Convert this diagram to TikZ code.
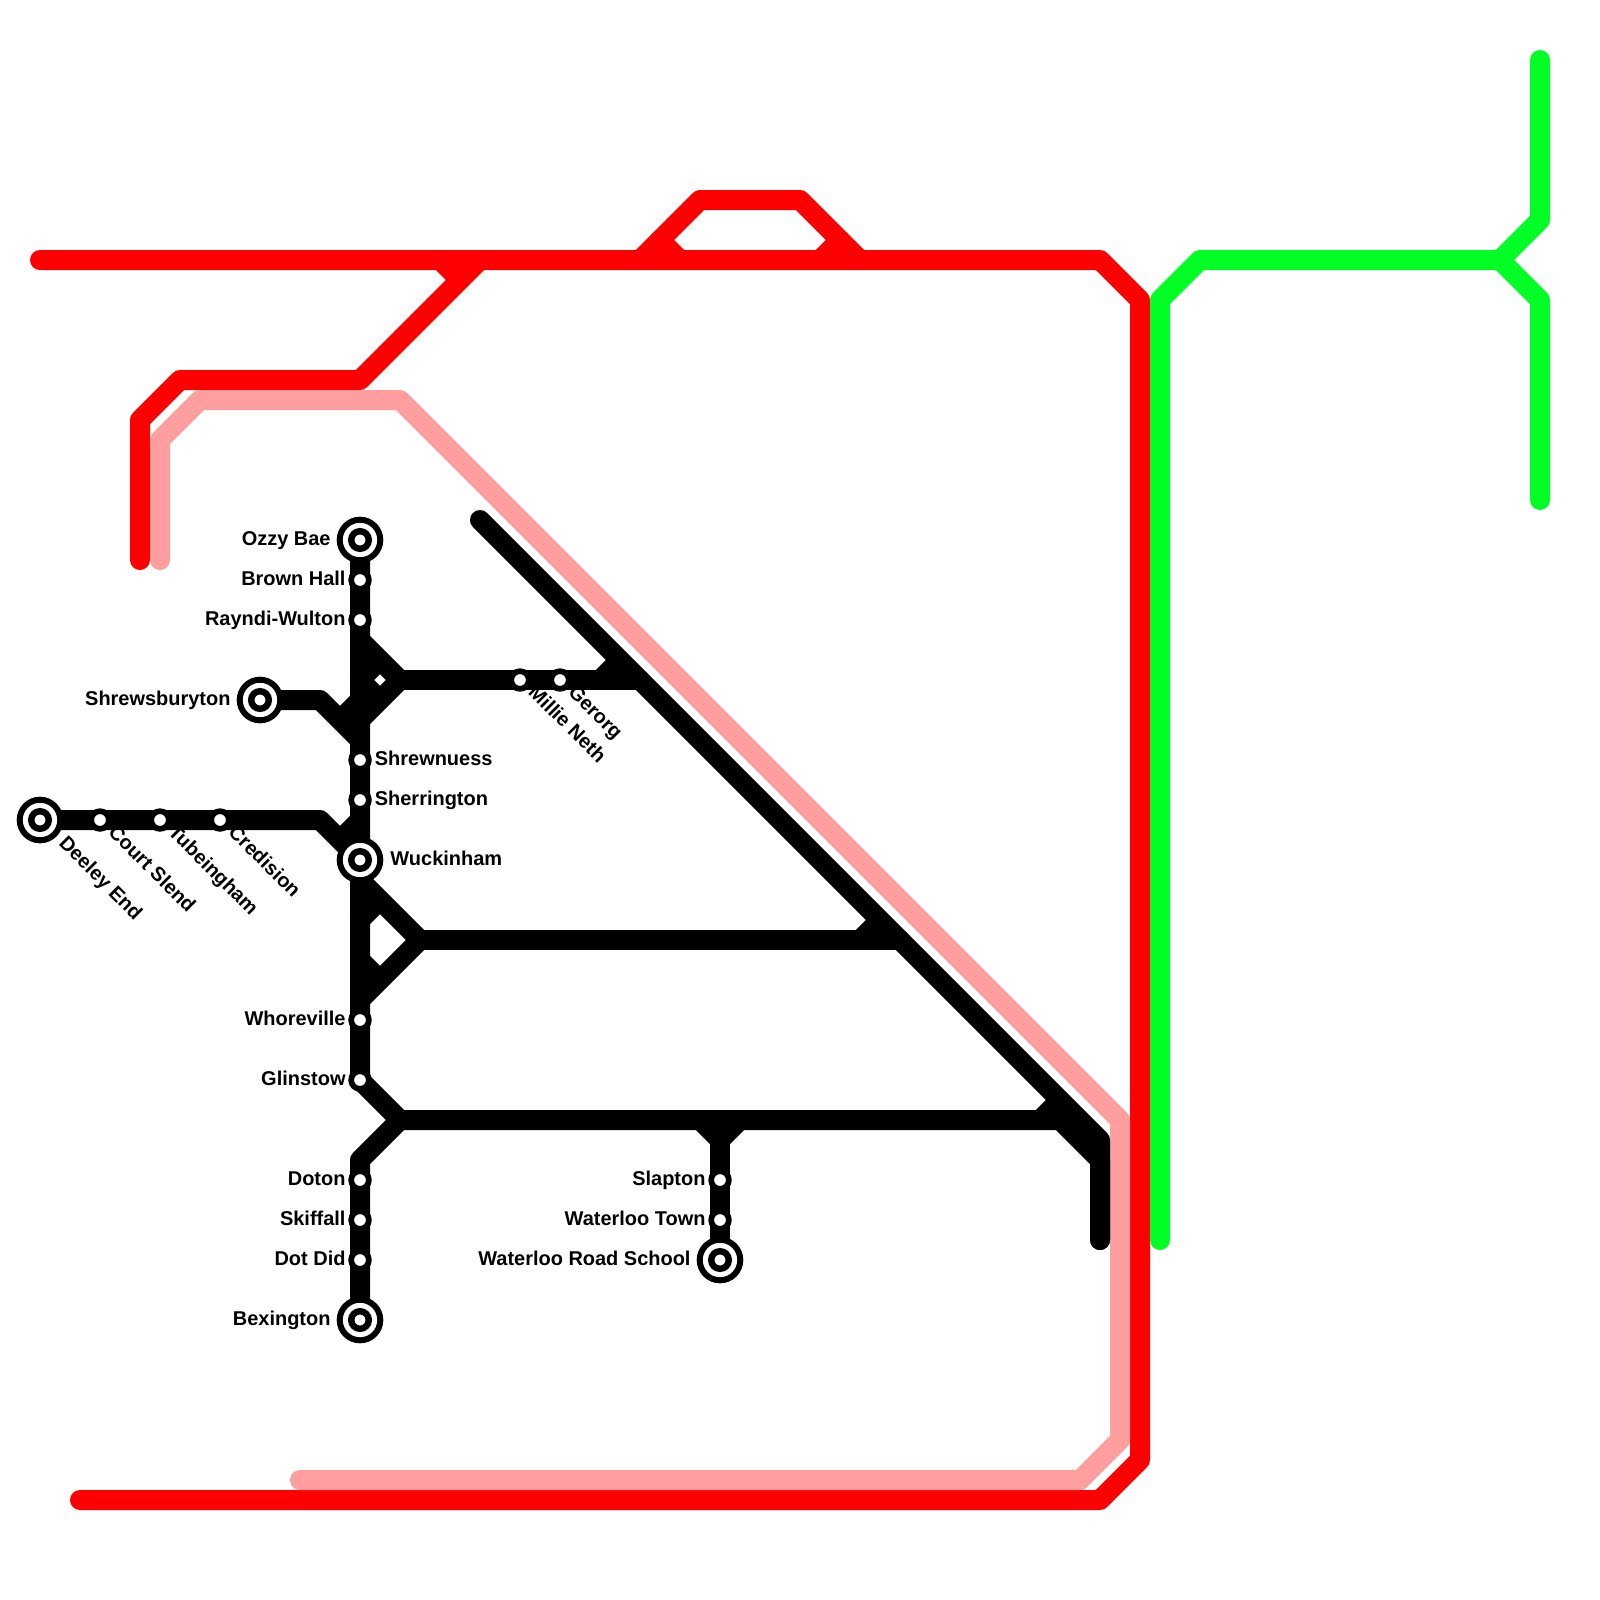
\documentclass[tikz,border=0pt]{standalone}
\usepackage{fontspec}
\setmainfont{Liberation Sans}
\definecolor{ink}{HTML}{000000}
\definecolor{rd}{HTML}{FF0000}
\definecolor{pk}{HTML}{FF9E9E}
\definecolor{gn}{HTML}{00FF24}
\tikzset{
  track/.style={line width=0.5cm,line join=round,line cap=round},
  stub/.style={line width=0.5cm,line cap=butt},
  halt/.style={circle,draw=ink,fill=white,line width=0.1425cm,minimum size=0.4425cm,inner sep=0},
  term/.style={circle,draw=ink,fill=white,line width=0.15cm,minimum size=1.015cm,inner sep=0,
    path picture={\draw[ink,fill=white,line width=0.16cm] (path picture bounding box.center) circle (0.22cm);}},
  lab/.style={font=\fontsize{14.2}{17}\selectfont\bfseries,inner sep=0,text=ink},
  labr/.style={lab,anchor=base east},
  labl/.style={lab,anchor=base west},
  labd/.style={lab,anchor=base west,rotate=-45}
}
\begin{document}
\begin{tikzpicture}[x=1cm,y=-1cm]
\useasboundingbox (0,0) rectangle (40,40);
% ===================== stops =====================
\coordinate (ozzy) at (9,13.5);
\coordinate (brown) at (9,14.5);
\coordinate (raynd) at (9,15.5);
\coordinate (shrewsb) at (6.5,17.5);
\coordinate (shrewn) at (9,19);
\coordinate (sherr) at (9,20);
\coordinate (wuck) at (9,21.5);
\coordinate (whore) at (9,25.5);
\coordinate (glin) at (9,27);
\coordinate (doton) at (9,29.5);
\coordinate (skiff) at (9,30.5);
\coordinate (dotdid) at (9,31.5);
\coordinate (bex) at (9,33);
\coordinate (slap) at (18,29.5);
\coordinate (wtown) at (18,30.5);
\coordinate (wroad) at (18,31.5);
\coordinate (deeley) at (1,20.5);
\coordinate (court) at (2.5,20.5);
\coordinate (tube) at (4,20.5);
\coordinate (cred) at (5.5,20.5);
\coordinate (millie) at (13,17);
\coordinate (gerorg) at (14,17);
% ===================== bends =====================
\coordinate (ra) at (1,6.5);
\coordinate (rb) at (27.5,6.5);
\coordinate (rc) at (28.5,7.5);
\coordinate (rd1) at (28.5,36.5);
\coordinate (re) at (27.5,37.5);
\coordinate (rf) at (2,37.5);
\coordinate (rg) at (3.5,14);
\coordinate (rh) at (3.5,10.5);
\coordinate (ri) at (4.5,9.5);
\coordinate (rj) at (9,9.5);
\coordinate (rk) at (12,6.5);
\coordinate (rl) at (11.5,7);
\coordinate (rm) at (11,6.5);
\coordinate (rn) at (16,6.5);
\coordinate (ro) at (17.5,5);
\coordinate (rp) at (20,5);
\coordinate (rq) at (21.5,6.5);
\coordinate (rr) at (16.5,6);
\coordinate (rs) at (17,6.5);
\coordinate (rt) at (21,6);
\coordinate (ru) at (20.5,6.5);
\coordinate (pa) at (4,14);
\coordinate (pb) at (4,11);
\coordinate (pc) at (5,10);
\coordinate (pd) at (10,10);
\coordinate (pe) at (28,28);
\coordinate (pf) at (28,36);
\coordinate (pg) at (27,37);
\coordinate (ph) at (7.5,37);
\coordinate (ga) at (29,31);
\coordinate (gb) at (29,7.5);
\coordinate (gc) at (30,6.5);
\coordinate (gd) at (37.5,6.5);
\coordinate (ge) at (38.5,5.5);
\coordinate (gf) at (38.5,1.5);
\coordinate (gg) at (38.5,7.5);
\coordinate (gh) at (38.5,12.5);
\coordinate (ka) at (12,13);
\coordinate (kb) at (27.5,28.5);
\coordinate (kc) at (27.5,31);
\coordinate (kd) at (8,17.5);
\coordinate (ke) at (8.5,18);
\coordinate (kf) at (9,17.5);
\coordinate (kg) at (9,18.5);
\coordinate (kh) at (9,16);
\coordinate (ki) at (10,17);
\coordinate (kj) at (16,17);
\coordinate (kk) at (15,17);
\coordinate (kl) at (15.5,16.5);
\coordinate (km) at (8,20.5);
\coordinate (kn) at (8.5,21);
\coordinate (ko) at (9,20.5);
\coordinate (kp) at (9,22);
\coordinate (kq) at (10.5,23.5);
\coordinate (kr) at (9,25);
\coordinate (ks) at (22.5,23.5);
\coordinate (kt) at (21.5,23.5);
\coordinate (ku) at (22,23);
\coordinate (kv) at (10,28);
\coordinate (kw) at (9,29);
\coordinate (kx) at (26.5,28);
\coordinate (ky) at (26,28);
\coordinate (kz) at (26.5,27.5);
\coordinate (kaa) at (27.5,29);
\coordinate (kab) at (9,18);
\coordinate (la) at (17.5,28);
\coordinate (lb) at (18.5,28);
\coordinate (lc) at (18,28.5);
% ===================== red =====================
\draw[track,rd] (ra) -- (rb) -- (rc) -- (rd1) -- (re) -- (rf);
\draw[track,rd] (rg) -- (rh) -- (ri) -- (rj) -- (rl);
\draw[stub,rd] (rl) -- (rk);
\draw[stub,rd] (rm) -- (rl);
\draw[stub,rd] (rn) -- (rr);
\draw[track,rd] (rr) -- (ro) -- (rp) -- (rt);
\draw[stub,rd] (rt) -- (rq);
\draw[stub,rd] (rr) -- (rs);
\draw[stub,rd] (rt) -- (ru);
% ===================== pink and green =====================
\draw[track,pk] (pa) -- (pb) -- (pc) -- (pd) -- (pe) -- (pf) -- (pg) -- (ph);
\draw[track,gn] (ga) -- (gb) -- (gc) -- (gd) -- (ge) -- (gf);
\draw[track,gn] (gd) -- (gg) -- (gh);
% ===================== black =====================
\draw[track,ink] (ka) -- (kb) -- (kc);
\draw[track,ink] (ozzy) -- (glin) -- (kv) -- (kw) -- (bex);
\draw[track,ink] (shrewsb) -- (kd) -- (kg);
\draw[stub,ink] (ke) -- (kf);
\draw[stub,ink] (kh) -- (ki) -- (kab);
\draw[track,ink] (ki) -- (kj);
\draw[stub,ink] (kk) -- (kl);
\draw[stub,ink] (9,17) -- (9.5,17.5);
\draw[stub,ink] (9.375,16.625) -- (8.925,17.075);
\draw[track,ink] (deeley) -- (km) -- (wuck);
\draw[stub,ink] (kn) -- (ko);
\draw[stub,ink] (kp) -- (kq) -- (kr);
\draw[track,ink] (kq) -- (ks);
\draw[stub,ink] (kt) -- (ku);
\draw[stub,ink] (9,24) -- (9.5,24.5);
\draw[stub,ink] (9.5,22.5) -- (8.925,23.075);
\draw[track,ink] (kv) -- (kx) -- (kaa) -- (kc);
\draw[stub,ink] (ky) -- (kz);
\draw[track,ink] (slap) -- (wroad);
\draw[stub,ink] (la) -- (lc) -- (lb);
\draw[track,ink] (lc) -- (slap);
% ===================== stations =====================
\node[term] (ozzyst) at (ozzy) {};
\node[halt] (brownst) at (brown) {};
\node[halt] (rayndst) at (raynd) {};
\node[term] (shrewsbst) at (shrewsb) {};
\node[halt] (shrewnst) at (shrewn) {};
\node[halt] (sherrst) at (sherr) {};
\node[term] (wuckst) at (wuck) {};
\node[halt] (whorest) at (whore) {};
\node[halt] (glinst) at (glin) {};
\node[halt] (dotonst) at (doton) {};
\node[halt] (skiffst) at (skiff) {};
\node[halt] (dotdidst) at (dotdid) {};
\node[term] (bexst) at (bex) {};
\node[halt] (slapst) at (slap) {};
\node[halt] (wtownst) at (wtown) {};
\node[term] (wroadst) at (wroad) {};
\node[term] (deeleyst) at (deeley) {};
\node[halt] (courtst) at (court) {};
\node[halt] (tubest) at (tube) {};
\node[halt] (credst) at (cred) {};
\node[halt] (milliest) at (millie) {};
\node[halt] (gerorgst) at (gerorg) {};
% ===================== names =====================
\node[labr] (ozzyl) at (8.27,13.63) {Ozzy Bae};
\node[labr] (brownl) at (8.645,14.63) {Brown Hall};
\node[labr] (rayndl) at (8.645,15.63) {Rayndi-Wulton};
\node[labr] (shrewsbl) at (5.77,17.63) {Shrewsburyton};
\node[labl] (shrewnl) at (9.365,19.13) {Shrewnuess};
\node[labl] (sherrl) at (9.365,20.13) {Sherrington};
\node[labl] (wuckl) at (9.755,21.63) {Wuckinham};
\node[labr] (whorel) at (8.645,25.63) {Whoreville};
\node[labr] (glinl) at (8.645,27.13) {Glinstow};
\node[labr] (dotonl) at (8.645,29.63) {Doton};
\node[labr] (skiffl) at (8.645,30.63) {Skiffall};
\node[labr] (dotdidl) at (8.645,31.63) {Dot Did};
\node[labr] (bexl) at (8.27,33.13) {Bexington};
\node[labr] (slapl) at (17.645,29.63) {Slapton};
\node[labr] (wtownl) at (17.645,30.63) {Waterloo Town};
\node[labr] (wroadl) at (17.27,31.63) {Waterloo Road School};
\node[labd] (deeleyl) at (1.45,21.11) {Deeley End};
\node[labd] (courtl) at (2.68,20.83) {Court Slend};
\node[labd] (tubel) at (4.18,20.83) {Tubeingham};
\node[labd] (credl) at (5.68,20.83) {Credision};
\node[labd] (milliel) at (13.18,17.33) {Millie Neth};
\node[labd] (gerorgl) at (14.18,17.33) {Gerorg};
\end{tikzpicture}
\end{document}
